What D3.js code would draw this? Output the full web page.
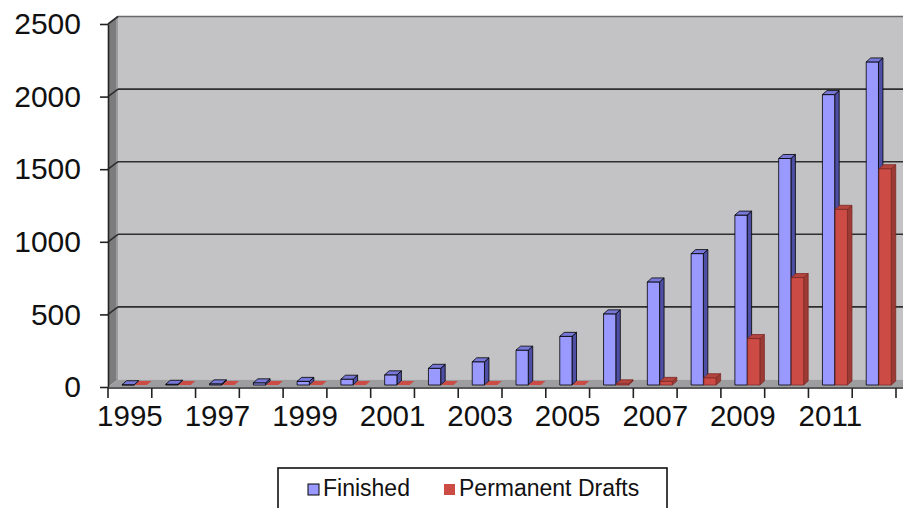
<!DOCTYPE html>
<html><head><meta charset="utf-8">
<script src="https://cdn.jsdelivr.net/npm/d3@7"></script>
<style>
body{margin:0;background:#fff}
svg{display:block}
text{font-family:"Liberation Sans",Arial,sans-serif;fill:#111}
</style>
</head><body>
<svg id="chart" width="903" height="508"></svg>
<script>
// Sequencing projects per year
const years = [1995,1996,1997,1998,1999,2000,2001,2002,2003,2004,2005,2006,2007,2008,2009,2010,2011,2012];
const finished = [2,5,8,15,25,40,70,115,160,240,335,490,710,905,1170,1560,2000,2225];
const permanentDrafts = [0,0,0,0,0,0,0,0,0,0,0,8,25,50,320,740,1210,1490];
const seriesNames = ["Finished","Permanent Drafts"];
const yTicks = [0,500,1000,1500,2000,2500];

const svg = d3.select("#chart");
const W = 903;

// 3D frame
const left = 108, right = 896, yBase = 387, yTopV = 24;
const wallDX = 10, wallDY = -7.5;      // depth of floor / walls
const barDX = 4.5, barDY = -4;         // depth of each column
const barLift = -2;                     // columns stand part-way into the floor

const x = d3.scaleBand().domain(years).range([left, right]);
const y = d3.scaleLinear().domain([0, 2500]).range([yBase, yTopV]);
const xs = d3.scaleBand().domain(seriesNames).range([14, 39]).paddingInner(0.04);

const colors = {
  "Finished": {front:"#9999ff", side:"#4e4ea4", top:"#7878d8", stroke:"#000"},
  "Permanent Drafts": {front:"#cc4b44", side:"#9c3a34", top:"#b4443e", stroke:"#7e2a26"}
};

// back wall
svg.append("rect")
  .attr("x", left + wallDX).attr("y", yTopV + wallDY)
  .attr("width", W - left - wallDX).attr("height", yBase - yTopV)
  .attr("fill", "#c3c2c5");
svg.append("line")
  .attr("x1", left + wallDX).attr("x2", W)
  .attr("y1", yTopV + wallDY).attr("y2", yTopV + wallDY)
  .attr("stroke", "#6a6a6a").attr("stroke-width", 1.5);

// left wall
svg.append("path")
  .attr("d", `M${left},${yTopV} L${left+wallDX},${yTopV+wallDY} L${left+wallDX},${yBase+wallDY} L${left},${yBase} Z`)
  .attr("fill", "#7c7c7e");
svg.append("line")
  .attr("x1", left + wallDX - 1).attr("x2", left + wallDX - 1)
  .attr("y1", yTopV + wallDY).attr("y2", yBase + wallDY)
  .attr("stroke", "#9d9d9f").attr("stroke-width", 2);

// gridlines on back wall and left wall
const grid = svg.append("g").attr("stroke", "#2e2e2e").attr("stroke-width", 1.6).attr("fill", "none");
grid.selectAll("line.back").data(yTicks.filter(v => v > 0 && v < 2500)).join("line")
  .attr("class", "back")
  .attr("x1", left + wallDX).attr("x2", W)
  .attr("y1", d => y(d) + wallDY).attr("y2", d => y(d) + wallDY);
grid.selectAll("line.side").data(yTicks.filter(v => v > 0)).join("line")
  .attr("class", "side")
  .attr("x1", left).attr("x2", left + wallDX)
  .attr("y1", d => y(d)).attr("y2", d => y(d) + wallDY);

// floor
svg.append("path")
  .attr("d", `M${left},${yBase} L${left+wallDX},${yBase+wallDY} L${W},${yBase+wallDY} L${W},${yBase} Z`)
  .attr("fill", "#9d9c9f");

// columns
const bars = [];
years.forEach((yr, i) => {
  bars.push({year: yr, series: "Finished", value: finished[i]});
  bars.push({year: yr, series: "Permanent Drafts", value: permanentDrafts[i]});
});

const g = svg.append("g");
bars.forEach(b => {
  const c = colors[b.series];
  const x0 = x(b.year) + xs(b.series), w = xs.bandwidth();
  const yb = y(0) + barLift, yt = y(b.value) + barLift;
  const grp = g.append("g").attr("stroke", c.stroke).attr("stroke-width", 0.8).attr("stroke-linejoin", "round");
  if (b.value > 0) {
    grp.append("path")
      .attr("d", `M${x0+w},${yt} L${x0+w+barDX},${yt+barDY} L${x0+w+barDX},${yb+barDY} L${x0+w},${yb} Z`)
      .attr("fill", c.side);
    grp.append("rect").attr("x", x0).attr("y", yt).attr("width", w).attr("height", yb - yt)
      .attr("fill", c.front);
  }
  grp.append("path")
    .attr("d", `M${x0},${yt} L${x0+barDX},${yt+barDY} L${x0+w+barDX},${yt+barDY} L${x0+w},${yt} Z`)
    .attr("fill", b.value > 0 ? c.top : c.front)
    .attr("stroke", b.value > 0 ? c.stroke : "none");
});

// y axis
const yAxis = svg.append("g").attr("transform", `translate(${left},0)`)
  .call(d3.axisLeft(y).tickValues(yTicks).tickSize(8).tickSizeOuter(0).tickPadding(19).tickFormat(d3.format("d")));
yAxis.select(".domain").attr("stroke", "#222").attr("stroke-width", 1.6);
yAxis.selectAll(".tick line").attr("stroke", "#222").attr("stroke-width", 1.6);
yAxis.selectAll("text").attr("font-size", 30).attr("fill", "#1a1a1a")
  .style("font-family", '"Liberation Sans",Arial,sans-serif');

// x axis
const xAxis = svg.append("g").attr("transform", `translate(0,${yBase + 1})`)
  .call(d3.axisBottom(x).tickSize(0).tickPadding(17)
    .tickFormat(d => (d - years[0]) % 2 === 0 ? d : ""));
xAxis.select(".domain").remove();
xAxis.selectAll("text").attr("font-size", 29.5).attr("fill", "#1a1a1a")
  .style("font-family", '"Liberation Sans",Arial,sans-serif');
xAxis.append("line").attr("x1", left).attr("x2", W).attr("y1", 0).attr("y2", 0)
  .attr("stroke", "#222").attr("stroke-width", 1.6);
const bounds = years.map(d => x(d)).concat([x.range()[1]]);
xAxis.selectAll("line.bound").data(bounds).join("line").attr("class", "bound")
  .attr("x1", d => d).attr("x2", d => d).attr("y1", 0).attr("y2", 10)
  .attr("stroke", "#222").attr("stroke-width", 1.6);

// legend
const lg = svg.append("g");
lg.append("rect").attr("x", 278).attr("y", 468).attr("width", 389).attr("height", 60)
  .attr("fill", "#fff").attr("stroke", "#111").attr("stroke-width", 1.6);
const legendX = {"Finished": 308, "Permanent Drafts": 444};
seriesNames.forEach(s => {
  const c = colors[s];
  lg.append("rect").attr("x", legendX[s]).attr("y", 484).attr("width", 11).attr("height", 11)
    .attr("fill", c.front).attr("stroke", s === "Finished" ? "#000" : "none").attr("stroke-width", 1);
  lg.append("text").attr("x", legendX[s] + 15).attr("y", 496).attr("font-size", 23).attr("fill", "#1a1a1a").text(s);
});
</script>
</body></html>
